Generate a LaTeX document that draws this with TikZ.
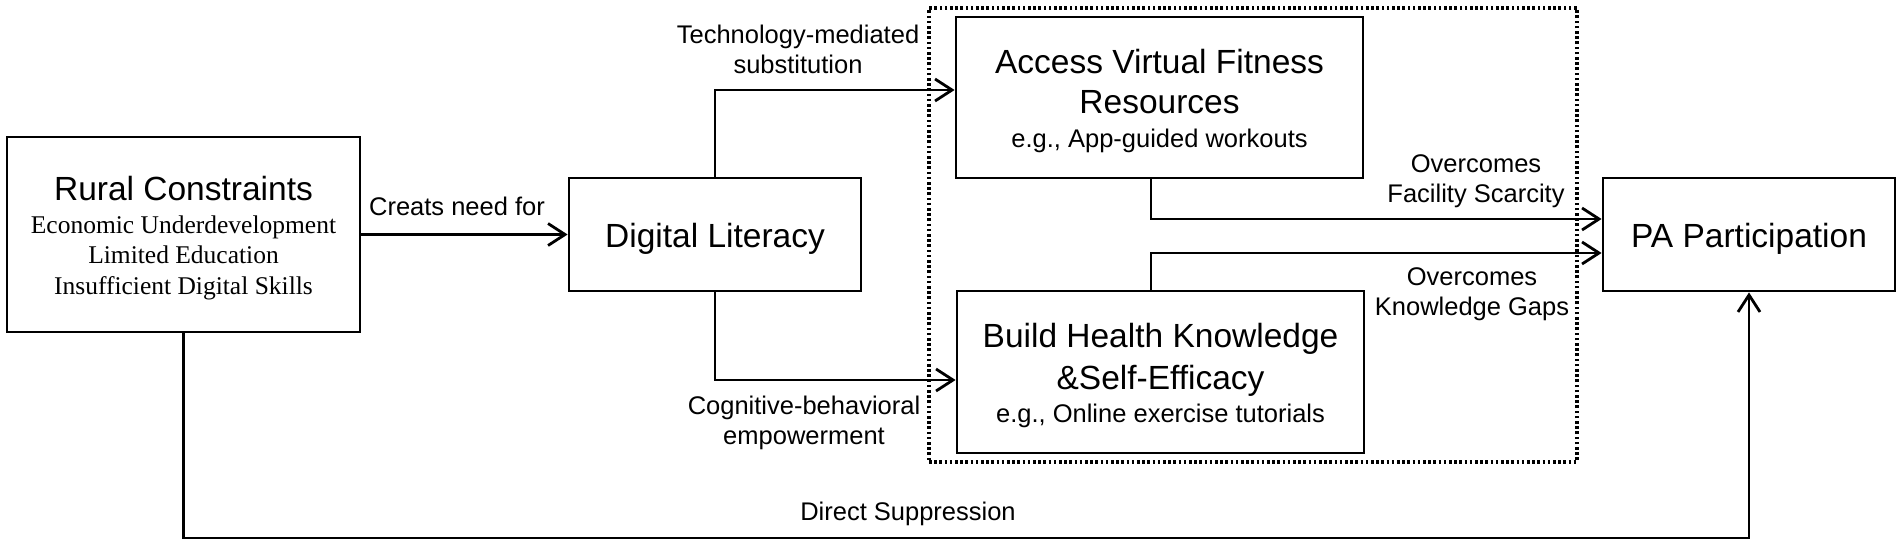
\documentclass[tikz,border=0pt]{standalone}
\usepackage{fontspec}
\setmainfont{Liberation Sans}
\newfontfamily\timesf{Liberation Serif}
\usetikzlibrary{arrows.meta}
\tikzset{
  box/.style={draw, line width=2.8pt, inner sep=0pt},
  ttl/.style={font=\fontsize{33.5}{40}\selectfont, anchor=base, inner sep=0pt},
  lbl/.style={font=\fontsize{25.5}{30}\selectfont, anchor=base, inner sep=0pt},
  srf/.style={font=\timesf\fontsize{25.5}{30}\selectfont, anchor=base, inner sep=0pt},
  ln/.style={line width=2.8pt},
  arr/.style={line width=2.8pt, -{Straight Barb[length=17pt,width=22pt,line width=2.8pt]}},
  grpbox/.style={draw, line width=3.2pt, dash pattern=on 2.6pt off 2.6pt, inner sep=0pt}
}
\begin{document}
\begin{tikzpicture}[x=1pt,y=-1pt]
\fill[white] (0,0) rectangle (1902,546);
\useasboundingbox (0,0) rectangle (1902,546);

% group box
\node[grpbox, minimum width=648pt, minimum height=454pt] (grp) at (1253,235) {};

% boxes
\node[box, minimum width=353pt, minimum height=195pt] (rural) at (183.5,234.5) {};
\node[box, minimum width=292pt, minimum height=113pt] (dl) at (715,234.5) {};
\node[box, minimum width=407pt, minimum height=161pt] (avf) at (1159.5,97.5) {};
\node[box, minimum width=407pt, minimum height=162pt] (bhk) at (1160.5,372) {};
\node[box, minimum width=292pt, minimum height=113pt] (pa) at (1749,234.5) {};

% box texts
\node[ttl] (rural1) at (183.5,200) {Rural Constraints};
\node[srf] (rural2) at (183.5,233) {Economic Underdevelopment};
\node[srf] (rural3) at (183.5,263) {Limited Education};
\node[srf] (rural4) at (183.5,294) {Insufficient Digital Skills};

\node[ttl] (dl1) at (715,247) {Digital Literacy};
\node[ttl] (pa1) at (1749,247) {PA Participation};

\node[ttl] (avf1) at (1159.5,73) {Access Virtual Fitness};
\node[ttl] (avf2) at (1159.5,113) {Resources};
\node[lbl] (avf3) at (1159.5,147) {e.g., App-guided workouts};

\node[ttl] (bhk1) at (1160.5,347) {Build Health Knowledge};
\node[ttl] (bhk2) at (1160.5,389) {\&Self-Efficacy};
\node[lbl] (bhk3) at (1160.5,422) {e.g., Online exercise tutorials};

% connector labels
\node[lbl] (l1) at (457,215) {Creats need for};
\node[lbl] (l2a) at (798,43) {Technology-mediated};
\node[lbl] (l2b) at (798,73) {substitution};
\node[lbl] (l3a) at (804,414) {Cognitive-behavioral};
\node[lbl] (l3b) at (804,444) {empowerment};
\node[lbl] (l4a) at (1476,172) {Overcomes};
\node[lbl] (l4b) at (1476,202) {Facility Scarcity};
\node[lbl] (l5a) at (1472,285) {Overcomes};
\node[lbl] (l5b) at (1472,315) {Knowledge Gaps};
\node[lbl] (l6) at (908,520) {Direct Suppression};

% connectors
\draw[arr] (rural.east) -- (dl.west);
\draw[arr] (dl.north) |- (avf.west |- 0,90);
\draw[arr] (dl.south) |- (bhk.west |- 0,380);
\draw[arr] (1151,0 |- avf.south) |- (pa.west |- 0,219);
\draw[arr] (1151,0 |- bhk.north) |- (pa.west |- 0,253);
\coordinate (ds) at (900,538);
\draw[arr] (rural.south) |- (ds) -| (pa.south);
\end{tikzpicture}
\end{document}
